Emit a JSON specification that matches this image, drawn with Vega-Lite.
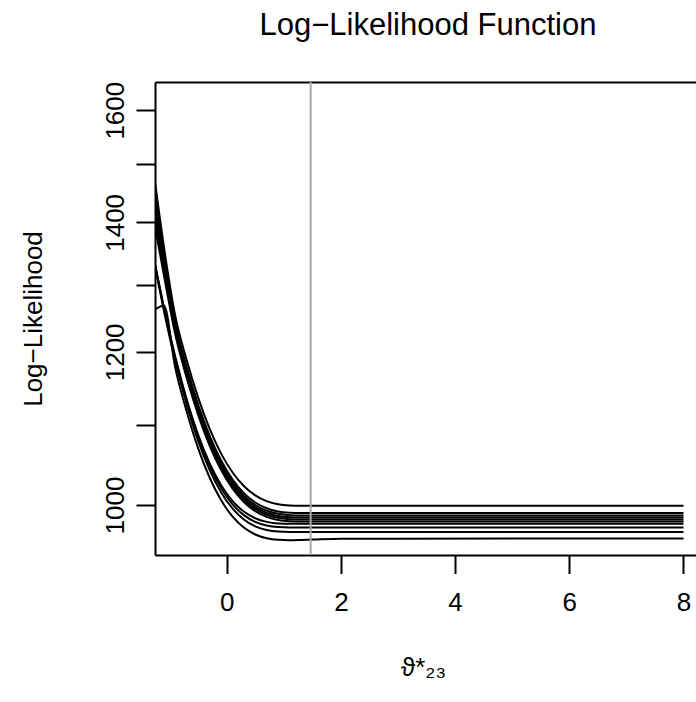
{
  "$schema": "https://vega.github.io/schema/vega-lite/v6.json",
  "width": 541,
  "height": 473,
  "autosize": {"type": "none"},
  "padding": {"left": 155, "top": 82, "right": 0, "bottom": 147},
  "background": "white",
  "config": {"view": {"stroke": null}, "font": "Liberation Sans"},
  "title": {
    "text": "Log−Likelihood Function",
    "fontSize": 31,
    "fontWeight": "normal",
    "font": "Liberation Sans",
    "color": "black",
    "anchor": "middle",
    "frame": "group",
    "baseline": "alphabetic",
    "offset": 15,
    "dx": 2.5
  },
  "layer": [
    {
      "data": {
        "values": [
          {"x": -1.256, "a": 1469, "b": 1455, "c": 1440, "d": 1420, "e": 1405, "f": 1393, "g": 1332.5, "h": 1331.7, "i": 1328.3, "j": 1262},
          {"x": -1.1, "a": 1360, "b": 1350, "c": 1340, "d": 1330, "e": 1322, "f": 1315, "g": 1265.3, "h": 1263.9, "i": 1260.1, "j": 1268},
          {"x": -0.9, "a": 1251.9, "b": 1242.0, "c": 1236.2, "d": 1232.4, "e": 1228.6, "f": 1224.8, "g": 1192.7, "h": 1190.5, "i": 1186.4, "j": 1177.0},
          {"x": -0.7, "a": 1188.0, "b": 1178.5, "c": 1173.4, "d": 1169.9, "e": 1166.6, "f": 1163.1, "g": 1133.9, "h": 1131.2, "i": 1126.7, "j": 1117.3},
          {"x": -0.5, "a": 1136.3, "b": 1127.0, "c": 1122.5, "d": 1119.4, "e": 1116.3, "f": 1113.1, "g": 1087.1, "h": 1083.9, "i": 1079.2, "j": 1069.8},
          {"x": -0.3, "a": 1095.1, "b": 1086.1, "c": 1082.1, "d": 1079.1, "e": 1076.3, "f": 1073.3, "g": 1051.1, "h": 1047.5, "i": 1042.7, "j": 1033.3},
          {"x": -0.1, "a": 1063.4, "b": 1054.6, "c": 1050.9, "d": 1048.2, "e": 1045.5, "f": 1042.7, "g": 1024.2, "h": 1020.4, "i": 1015.4, "j": 1006.0},
          {"x": 0.1, "a": 1039.7, "b": 1031.0, "c": 1027.6, "d": 1025.0, "e": 1022.5, "f": 1019.9, "g": 1005.0, "h": 1001.0, "i": 995.9, "j": 986.5},
          {"x": 0.3, "a": 1022.9, "b": 1014.2, "c": 1011.1, "d": 1008.5, "e": 1006.1, "f": 1003.6, "g": 992.2, "h": 988.0, "i": 982.9, "j": 973.5},
          {"x": 0.5, "a": 1011.6, "b": 1003.0, "c": 1000.0, "d": 997.5, "e": 995.1, "f": 992.6, "g": 984.3, "h": 980.1, "i": 974.9, "j": 965.5},
          {"x": 0.7, "a": 1004.6, "b": 996.1, "c": 993.1, "d": 990.7, "e": 988.4, "f": 985.9, "g": 980.1, "h": 975.8, "i": 970.6, "j": 961.2},
          {"x": 0.9, "a": 1000.9, "b": 992.4, "c": 989.5, "d": 987.1, "e": 984.8, "f": 982.3, "g": 978.3, "h": 974.0, "i": 968.8, "j": 959.4},
          {"x": 1.1, "a": 999.4, "b": 990.9, "c": 988.0, "d": 985.6, "e": 983.3, "f": 980.9, "g": 977.9, "h": 973.6, "i": 968.4, "j": 959.0},
          {"x": 1.3, "a": 999, "b": 990.5, "c": 987.6, "d": 985.2, "e": 982.9, "f": 980.5, "g": 977.9, "h": 973.6, "i": 968.4, "j": 959.3},
          {"x": 1.5, "a": 999, "b": 990.5, "c": 987.6, "d": 985.2, "e": 982.9, "f": 980.5, "g": 977.9, "h": 973.6, "i": 968.4, "j": 959.7},
          {"x": 2, "a": 999, "b": 990.5, "c": 987.6, "d": 985.2, "e": 982.9, "f": 980.5, "g": 977.9, "h": 973.6, "i": 968.4, "j": 960.6},
          {"x": 8, "a": 999, "b": 990.5, "c": 987.6, "d": 985.2, "e": 982.9, "f": 980.5, "g": 977.9, "h": 973.6, "i": 968.4, "j": 960.9}
        ]
      },
      "transform": [{"fold": ["a", "b", "c", "d", "e", "f", "g", "h", "i", "j"], "as": ["curve", "ll"]}],
      "mark": {"type": "line", "interpolate": "monotone", "color": "black", "strokeWidth": 2, "clip": true},
      "encoding": {
        "x": {
          "field": "x",
          "type": "quantitative",
          "scale": {"domain": [-1.256, 8.219], "nice": false, "zero": false},
          "axis": {
            "orient": "bottom",
            "values": [0, 2, 4, 6, 8],
            "format": "d",
            "grid": false,
            "tickSize": 18.5,
            "tickWidth": 2,
            "tickColor": "black",
            "domainColor": "black",
            "domainWidth": 2,
            "labelFontSize": 26,
            "labelColor": "black",
            "labelFont": "Liberation Sans",
            "labelPadding": 16,
            "labelFlush": false,
            "labelOverlap": false,
            "title": "ϑ*₂₃",
            "titleFont": "Liberation Sans",
            "titleFontSize": 26,
            "titleFontWeight": "normal",
            "titleColor": "black",
            "titleX": 268,
            "titleY": 120,
            "titleAlign": "center",
            "titleBaseline": "alphabetic"
          }
        },
        "y": {
          "field": "ll",
          "type": "quantitative",
          "scale": {"type": "log", "domain": [942.2, 1654.6], "nice": false},
          "axis": {
            "orient": "left",
            "values": [1000, 1100, 1200, 1300, 1400, 1500, 1600],
            "format": "d",
            "labelExpr": "datum.value % 200 === 0 ? datum.label : ''",
            "grid": false,
            "tickSize": 19,
            "tickWidth": 2,
            "tickColor": "black",
            "domainColor": "black",
            "domainWidth": 2,
            "labelFontSize": 26,
            "labelColor": "black",
            "labelFont": "Liberation Sans",
            "labelAngle": -90,
            "labelAlign": "center",
            "labelBaseline": "alphabetic",
            "labelPadding": 13,
            "labelOverlap": false,
            "title": "Log−Likelihood",
            "titleFont": "Liberation Sans",
            "titleFontSize": 26,
            "titleFontWeight": "normal",
            "titleColor": "black",
            "titleAngle": -90,
            "titleX": -114,
            "titleY": 236.5,
            "titleAlign": "center",
            "titleBaseline": "alphabetic"
          }
        },
        "detail": {"field": "curve"}
      }
    },
    {
      "data": {"values": [{"x": 1.47}]},
      "mark": {"type": "rule", "color": "#a8a8a8", "strokeWidth": 2},
      "encoding": {
        "x": {
          "field": "x",
          "type": "quantitative",
          "axis": {
            "orient": "top",
            "labels": false,
            "ticks": false,
            "grid": false,
            "domain": true,
            "domainColor": "black",
            "domainWidth": 2,
            "title": null
          }
        }
      }
    }
  ],
  "resolve": {"axis": {"x": "independent"}}
}
